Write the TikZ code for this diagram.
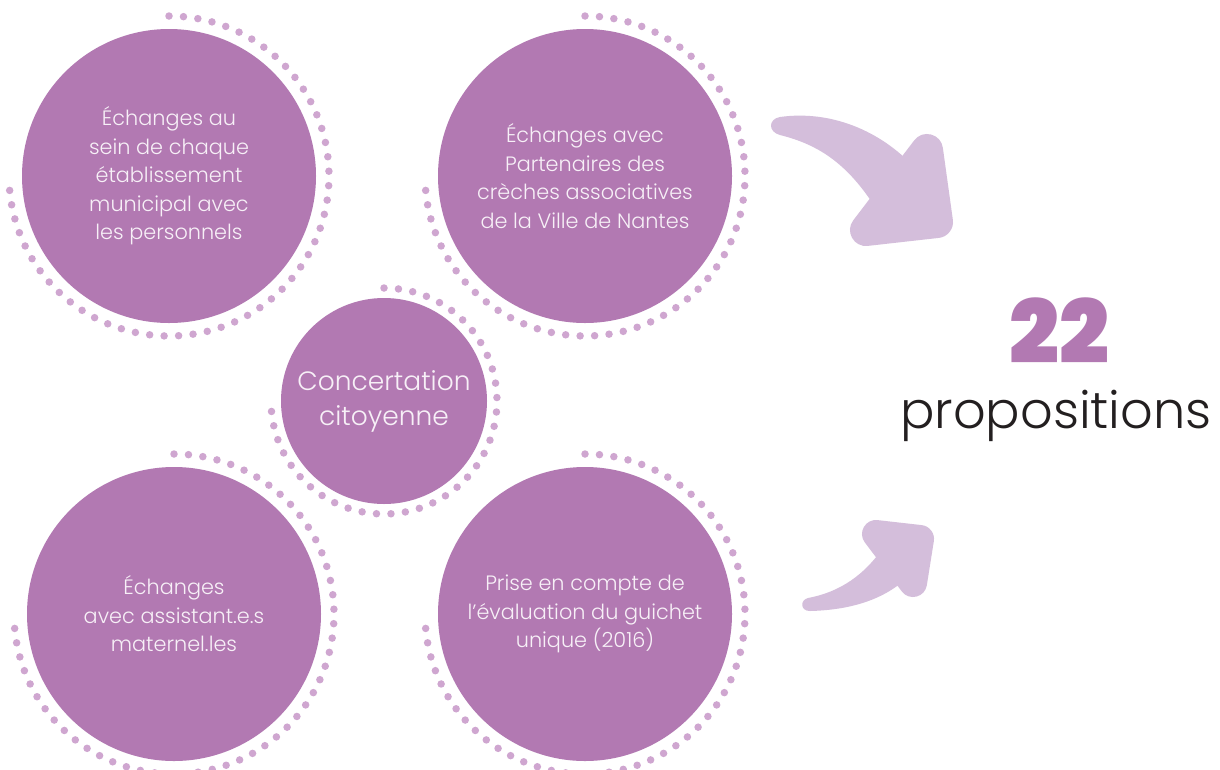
\documentclass[tikz,border=0pt]{standalone}
\usepackage{fontspec}
\setmainfont{Poppins Light}
\newfontfamily\heavyfont{Poppins Black}
\definecolor{circ}{HTML}{B279B2}
\definecolor{dotc}{HTML}{CFA6D0}
\definecolor{arr}{HTML}{D4BEDB}
\definecolor{ctext}{HTML}{F7F0F7}
\definecolor{dark}{HTML}{231F20}
\newcommand\dotarc[3]{\draw[dotring] plot[domain=-90:180,samples=140,smooth] ({#1+#3*cos(\x)},{#2+#3*sin(\x)});}
\begin{document}
\begin{tikzpicture}[x=1pt,y=-1pt,
  bubble/.style={circle, fill=circ, inner sep=0pt, minimum size=#1, text=ctext, align=center, font=\fontsize{20.8}{28.5}\selectfont},
  dotring/.style={dotc, line width=7.5pt, line cap=round, dash pattern=on 0pt off 14.5pt},
  arrowbody/.style={fill=arr, draw=none},
  arrowhead/.style={fill=arr, draw=arr, line join=round}]
\fill[white] (0,0) rectangle (1220,769);
\useasboundingbox (0,0) rectangle (1220,769);
% dotted rings
\dotarc{169}{176}{160}
\dotarc{585}{176}{160}
\dotarc{384}{401}{113}
\dotarc{174}{614}{160}
\dotarc{585}{614}{160}
% circles
\node[bubble=294pt] (c1) at (169,176) {Échanges au\\sein de chaque\\établissement\\municipal avec\\les personnels};
\node[bubble=294pt] (c2) at (585,176) {Échanges avec\\Partenaires des\\crèches associatives\\de la Ville de Nantes};
\node[bubble=206pt, font=\fontsize{26.5}{35}\selectfont] (c3) at (384,401) {Concertation\\citoyenne};
\node[bubble=294pt] (c4) at (174,614) {Échanges\\avec assistant.e.s\\maternel.les};
\node[bubble=294pt] (c5) at (585,614) {Prise en compte de\\l’évaluation du guichet\\unique (2016)};
% arrows
\path[arrowbody] (780,117) .. controls (830,110) and (880,130) .. (915,168) -- (880,215) .. controls (850,165) and (820,145) .. (780,135) .. controls (768,132) and (768,119) .. (780,117) -- cycle;
\filldraw[arrowhead, line width=32pt] (927,150) -- (937,222) -- (866,230) -- cycle;
\path[arrowbody] (810,611) .. controls (850,610) and (885,600) .. (910,575) -- (885,545) .. controls (865,575) and (840,592) .. (808,598) .. controls (800,600) and (800,611) .. (810,611) -- cycle;
\filldraw[arrowhead, line width=28pt] (876,534) -- (920,539) -- (913,583) -- cycle;
% result
\node[text=circ, font=\heavyfont\fontsize{88}{88}\selectfont, anchor=base, inner sep=0pt] (n22) at (1059,363) {22};
\node[text=dark, font=\fontsize{51}{51}\selectfont, anchor=base, inner sep=0pt] (prop) at (1056,428) {propositions};
\end{tikzpicture}
\end{document}
